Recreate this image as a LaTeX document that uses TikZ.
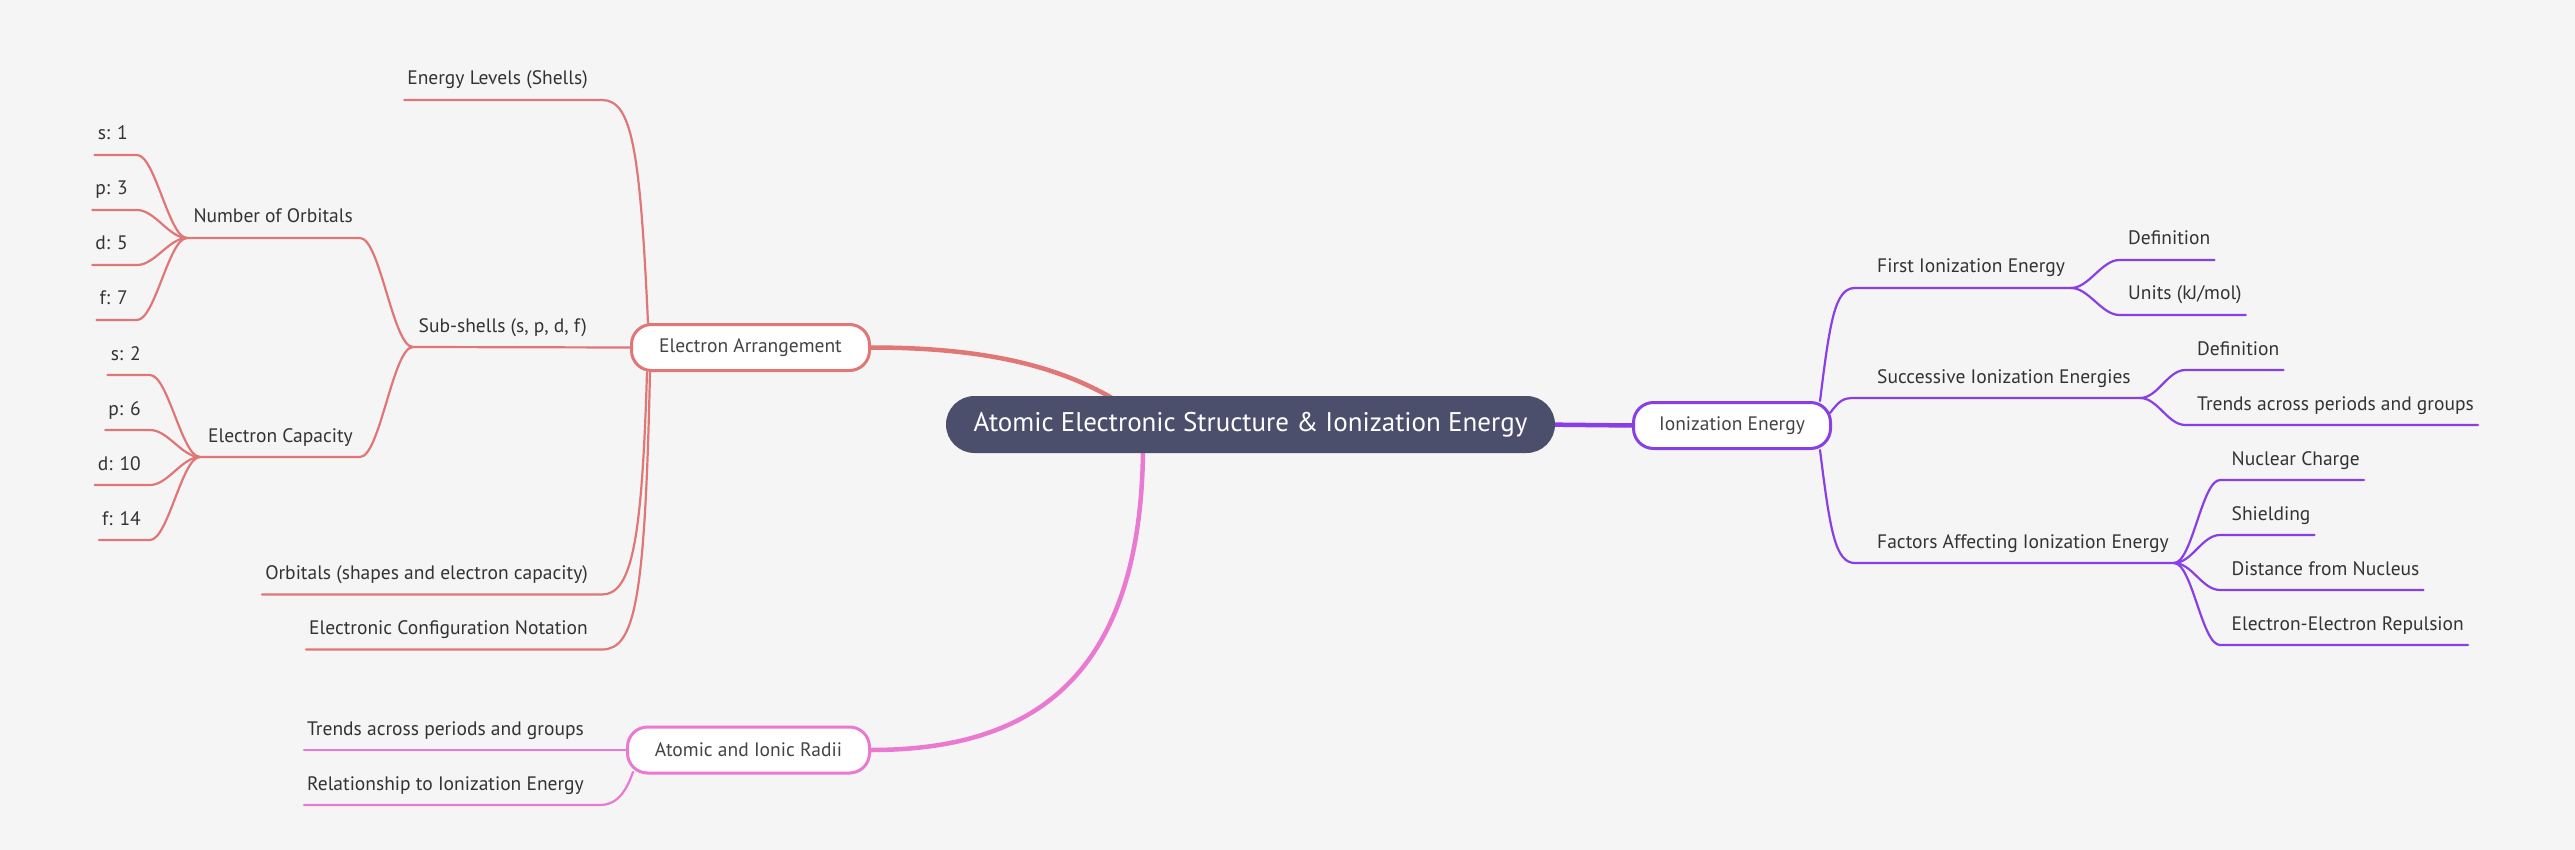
\documentclass[tikz,border=0pt]{standalone}
\usepackage{fontspec}
\setmainfont{PT Sans}
\usetikzlibrary{calc}
\definecolor{bgc}{HTML}{F5F5F5}
\definecolor{redb}{HTML}{E07676}
\definecolor{purb}{HTML}{8A3FE6}
\definecolor{pinkb}{HTML}{EA79D2}
\definecolor{rootc}{HTML}{4B4F6B}
\definecolor{txt}{HTML}{333333}
\definecolor{ntxt}{HTML}{444444}
\pgfdeclarelayer{back}
\pgfsetlayers{back,main}
\begin{document}
\begin{tikzpicture}[x=1pt,y=-1pt,
  lbl/.style={inner sep=0pt, font=\fontsize{19.5}{24}\selectfont, text=txt},
  lbll/.style={lbl, anchor=base east},
  lblr/.style={lbl, anchor=base west},
  ln/.style={line width=2.2pt, line cap=round},
  mainln/.style={line width=4.5pt},
  box/.style={draw, line width=3pt, fill=white, rounded corners=20pt, minimum height=46pt, inner sep=0pt, text=ntxt, font=\fontsize{19.5}{24}\selectfont},
  rootbox/.style={fill=rootc, rounded corners=28.5pt, minimum width=609pt, minimum height=57pt, text=white, font=\fontsize{27}{34}\selectfont, inner sep=0pt}
]
\useasboundingbox (0,0) rectangle (2575,850);
\begin{pgfonlayer}{back}
\fill[bgc] (0,0) rectangle (2575,850);
\end{pgfonlayer}

% main nodes
\node[rootbox] (root) at (1250.5,424.5) {Atomic Electronic Structure \& Ionization Energy};
\node[box, draw=redb, minimum width=238pt] (ea) at (750.5,347.5) {Electron Arrangement};
\node[box, draw=purb, minimum width=197pt] (ie) at (1732,425.5) {Ionization Energy};
\node[box, draw=pinkb, minimum width=242pt] (air) at (748.5,750) {Atomic and Ionic Radii};

% left labels
\node[lbll] (els) at (588,85) {Energy Levels (Shells)};
\node[lbll] (sub) at (587,332) {Sub-shells (s, p, d, f)};
\node[lbll] (orb) at (588,579.5) {Orbitals (shapes and electron capacity)};
\node[lbll] (ecn) at (588,634.5) {Electronic Configuration Notation};
\node[lbll] (noo) at (353,223) {Number of Orbitals};
\node[lbll] (ec) at (353,442) {Electron Capacity};
\node[lbll] (s1) at (128,140) {s: 1};
\node[lbll] (p3) at (128,195) {p: 3};
\node[lbll] (d5) at (128,250) {d: 5};
\node[lbll] (f7) at (128,305) {f: 7};
\node[lbll] (s2) at (141,360) {s: 2};
\node[lbll] (p6) at (141,415) {p: 6};
\node[lbll] (d10) at (141,470) {d: 10};
\node[lbll] (f14) at (141,525) {f: 14};
\node[lbll] (tr1) at (584,735) {Trends across periods and groups};
\node[lbll] (rel) at (584,790) {Relationship to Ionization Energy};

% right labels
\node[lblr] (fie) at (1877,273) {First Ionization Energy};
\node[lblr] (sie) at (1877,383) {Successive Ionization Energies};
\node[lblr] (fac) at (1877,548) {Factors Affecting Ionization Energy};
\node[lblr] (def1) at (2128,245) {Definition};
\node[lblr] (units) at (2128,300) {Units (kJ/mol)};
\node[lblr] (def2) at (2197,355) {Definition};
\node[lblr] (tr2) at (2197,410) {Trends across periods and groups};
\node[lblr] (nuc) at (2231.5,465) {Nuclear Charge};
\node[lblr] (shi) at (2231.5,520) {Shielding};
\node[lblr] (dis) at (2231.5,575) {Distance from Nucleus};
\node[lblr] (eer) at (2231.5,630) {Electron-Electron Repulsion};

% named connector points
\coordinate (ea-tl) at (648,323);
\coordinate (ea-b1) at (647,372);
\coordinate (ea-b2) at (650,372);
\coordinate (els-e) at (602,100);
\coordinate (orb-e) at (602,594.5);
\coordinate (ecn-e) at (602,649.5);
\coordinate (sub-f) at (413,347);
\coordinate (noo-f) at (187,238);
\coordinate (noo-e) at (360,238);
\coordinate (ec-f) at (200,457);
\coordinate (ec-e) at (360,457);
\coordinate (root-ea) at (1112,398);
\coordinate (root-air) at (1143,452);
\coordinate (root-ie) at (1540,424.5);
\coordinate (air-bl) at (633,772);
\coordinate (rel-e) at (600,805);
\coordinate (ie-t) at (1820,401);
\coordinate (ie-r) at (1830,413);
\coordinate (ie-b) at (1820,450);
\coordinate (fie-s) at (1855,288);
\coordinate (sie-s) at (1855,398);
\coordinate (fac-s) at (1855,563);
\coordinate (fie-f) at (2071,288);
\coordinate (sie-f) at (2140,398);
\coordinate (fac-f) at (2174,563);

\begin{pgfonlayer}{back}
% root connectors
\draw[mainln,redb] (ea.east) .. controls (990,347.5) and (1060,368) .. (root-ea);
\draw[mainln,pinkb] (root-air) .. controls (1140,680) and (1030,750) .. (air.east);
\draw[mainln,purb] (root-ie) -- (ie.west);

% Electron Arrangement branch
\draw[ln,redb] ($(els.base west)+(-3,15)$) -- (els-e) .. controls (632,100) and (640,150) .. (ea-tl);
\draw[ln,redb] (sub-f) -- (ea.west);
\draw[ln,redb] ($(orb.base west)+(-3,15)$) -- (orb-e) .. controls (632,594.5) and (642,540) .. (ea-b1);
\draw[ln,redb] ($(ecn.base west)+(-3,15)$) -- (ecn-e) .. controls (635,649.5) and (645,600) .. (ea-b2);
\draw[ln,redb] (noo-f) -- (noo-e) .. controls +(20,0) and +(-20,0) .. (sub-f);
\draw[ln,redb] (ec-f) -- (ec-e) .. controls +(20,0) and +(-20,0) .. (sub-f);
\foreach \n in {s1,p3,d5,f7}{
  \draw[ln,redb] ($(\n.base west)+(-3,15)$) -- ($(\n.base east)+(9,15)$) .. controls +(18,0) and +(-18,0) .. (noo-f);
}
\foreach \n in {s2,p6,d10,f14}{
  \draw[ln,redb] ($(\n.base west)+(-3,15)$) -- ($(\n.base east)+(9,15)$) .. controls +(18,0) and +(-18,0) .. (ec-f);
}

% Atomic and Ionic Radii branch
\draw[ln,pinkb] ($(tr1.base west)+(-3,15)$) -- (air.west);
\draw[ln,pinkb] ($(rel.base west)+(-3,15)$) -- (rel-e) .. controls (615,805) and (625,795) .. (air-bl);

% Ionization Energy branch
\draw[ln,purb] (ie-t) .. controls (1830,320) and (1835,288) .. (fie-s) -- (fie-f);
\draw[ln,purb] (ie-r) .. controls (1840,400) and (1843,398) .. (sie-s) -- (sie-f);
\draw[ln,purb] (ie-b) .. controls (1830,530) and (1835,563) .. (fac-s) -- (fac-f);
\draw[ln,purb] (fie-f) .. controls +(18,0) and +(-18,0) .. ($(def1.base west)+(-8.5,15)$) -- ($(def1.base east)+(4,15)$);
\draw[ln,purb] (fie-f) .. controls +(18,0) and +(-18,0) .. ($(units.base west)+(-8.5,15)$) -- ($(units.base east)+(4,15)$);
\draw[ln,purb] (sie-f) .. controls +(18,0) and +(-18,0) .. ($(def2.base west)+(-11.5,15)$) -- ($(def2.base east)+(4,15)$);
\draw[ln,purb] (sie-f) .. controls +(18,0) and +(-18,0) .. ($(tr2.base west)+(-11.5,15)$) -- ($(tr2.base east)+(4,15)$);
\foreach \n in {nuc,shi,dis,eer}{
  \draw[ln,purb] (fac-f) .. controls +(18,0) and +(-18,0) .. ($(\n.base west)+(-11.5,15)$) -- ($(\n.base east)+(4,15)$);
}
\end{pgfonlayer}
\end{tikzpicture}
\end{document}
